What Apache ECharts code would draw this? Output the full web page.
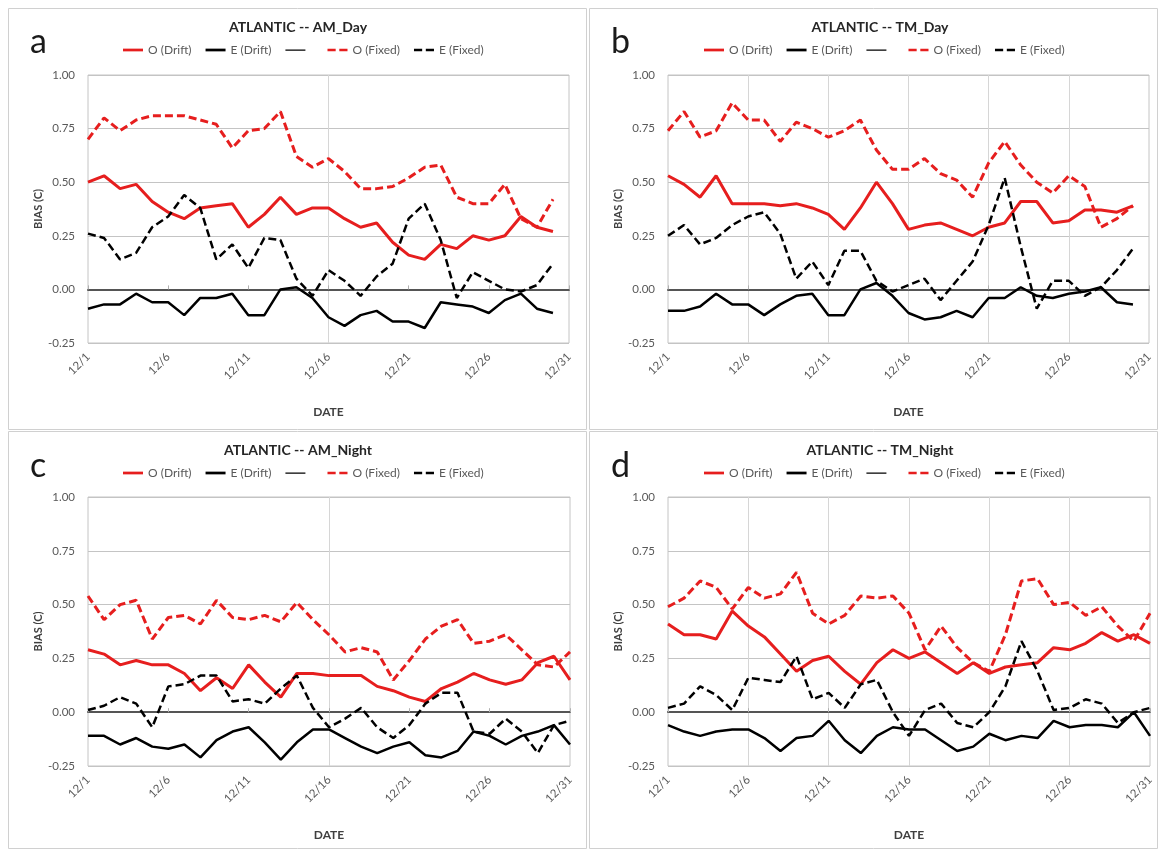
<!DOCTYPE html>
<html><head><meta charset="utf-8">
<script src="https://cdn.jsdelivr.net/npm/echarts@6/dist/echarts.min.js"></script>
<style>html,body{margin:0;padding:0;background:#fff}#c{width:1161px;height:849px}</style>
</head><body><div id="c"></div>
<script>
// ---------- DATA ----------
const categories = ['12/1','12/2','12/3','12/4','12/5','12/6','12/7','12/8','12/9','12/10',
  '12/11','12/12','12/13','12/14','12/15','12/16','12/17','12/18','12/19','12/20',
  '12/21','12/22','12/23','12/24','12/25','12/26','12/27','12/28','12/29','12/30','12/31'];
const yMin = -0.25, yMax = 1.00, yStep = 0.25;
const panelTitles = ['ATLANTIC -- AM_Day','ATLANTIC -- TM_Day','ATLANTIC -- AM_Night','ATLANTIC -- TM_Night'];
const panelLetters = ['a','b','c','d'];
const seriesNames = ['O (Drift)','E (Drift)',' ','O (Fixed)','E (Fixed)'];

// Panel a: AM_Day
const aODrift = [0.50,0.53,0.47,0.49,0.41,0.36,0.33,0.38,0.39,0.40,0.29,0.35,0.43,0.35,0.38,0.38,0.33,0.29,0.31,0.22,0.16,0.14,0.21,0.19,0.25,0.23,0.25,0.34,0.29,0.27];
const aEDrift = [-0.09,-0.07,-0.07,-0.02,-0.06,-0.06,-0.12,-0.04,-0.04,-0.02,-0.12,-0.12,0.00,0.01,-0.04,-0.13,-0.17,-0.12,-0.10,-0.15,-0.15,-0.18,-0.06,-0.07,-0.08,-0.11,-0.05,-0.02,-0.09,-0.11];
const aOFixed = [0.70,0.80,0.74,0.79,0.81,0.81,0.81,0.79,0.77,0.66,0.74,0.75,0.83,0.62,0.57,0.61,0.55,0.47,0.47,0.48,0.52,0.57,0.58,0.43,0.40,0.40,0.49,0.33,0.29,0.42];
const aEFixed = [0.26,0.24,0.14,0.17,0.29,0.34,0.44,0.38,0.14,0.21,0.10,0.24,0.23,0.05,-0.03,0.09,0.04,-0.03,0.06,0.12,0.33,0.40,0.23,-0.04,0.08,0.04,0.00,-0.01,0.02,0.12];
// Panel b: TM_Day
const bODrift = [0.53,0.49,0.43,0.53,0.40,0.40,0.40,0.39,0.40,0.38,0.35,0.28,0.38,0.50,0.40,0.28,0.30,0.31,0.28,0.25,0.29,0.31,0.41,0.41,0.31,0.32,0.37,0.37,0.36,0.39];
const bEDrift = [-0.10,-0.10,-0.08,-0.02,-0.07,-0.07,-0.12,-0.07,-0.03,-0.02,-0.12,-0.12,0.00,0.03,-0.03,-0.11,-0.14,-0.13,-0.10,-0.13,-0.04,-0.04,0.01,-0.03,-0.04,-0.02,-0.01,0.01,-0.06,-0.07];
const bOFixed = [0.74,0.83,0.71,0.74,0.87,0.79,0.79,0.69,0.78,0.75,0.71,0.74,0.79,0.65,0.56,0.56,0.61,0.54,0.51,0.43,0.59,0.69,0.58,0.50,0.45,0.53,0.48,0.29,0.33,0.39];
const bEFixed = [0.25,0.30,0.21,0.24,0.30,0.34,0.36,0.26,0.05,0.13,0.02,0.18,0.18,0.04,-0.01,0.02,0.05,-0.05,0.04,0.13,0.30,0.52,0.20,-0.09,0.04,0.04,-0.03,0.01,0.09,0.19];
// Panel c: AM_Night
const cODrift = [0.29,0.27,0.22,0.24,0.22,0.22,0.18,0.10,0.16,0.11,0.22,0.14,0.07,0.18,0.18,0.17,0.17,0.17,0.12,0.10,0.07,0.05,0.11,0.14,0.18,0.15,0.13,0.15,0.23,0.26,0.15];
const cEDrift = [-0.11,-0.11,-0.15,-0.12,-0.16,-0.17,-0.15,-0.21,-0.13,-0.09,-0.07,-0.14,-0.22,-0.14,-0.08,-0.08,-0.12,-0.16,-0.19,-0.16,-0.14,-0.20,-0.21,-0.18,-0.09,-0.11,-0.15,-0.11,-0.09,-0.06,-0.15];
const cOFixed = [0.54,0.43,0.50,0.52,0.34,0.44,0.45,0.41,0.52,0.44,0.43,0.45,0.42,0.51,0.43,0.36,0.28,0.30,0.28,0.15,0.24,0.34,0.40,0.43,0.32,0.33,0.36,0.29,0.22,0.21,0.28];
const cEFixed = [0.01,0.03,0.07,0.04,-0.07,0.12,0.13,0.17,0.17,0.05,0.06,0.04,0.11,0.17,0.02,-0.07,-0.03,0.02,-0.07,-0.12,-0.06,0.04,0.09,0.09,-0.09,-0.10,-0.03,-0.09,-0.19,-0.06,-0.04];
// Panel d: TM_Night
const dODrift = [0.41,0.36,0.36,0.34,0.47,0.40,0.35,0.27,0.19,0.24,0.26,0.19,0.13,0.23,0.29,0.25,0.28,0.23,0.18,0.23,0.18,0.21,0.22,0.23,0.30,0.29,0.32,0.37,0.33,0.36,0.32];
const dEDrift = [-0.06,-0.09,-0.11,-0.09,-0.08,-0.08,-0.12,-0.18,-0.12,-0.11,-0.04,-0.13,-0.19,-0.11,-0.07,-0.08,-0.08,-0.13,-0.18,-0.16,-0.10,-0.13,-0.11,-0.12,-0.04,-0.07,-0.06,-0.06,-0.07,0.00,-0.11];
const dOFixed = [0.49,0.53,0.61,0.58,0.48,0.58,0.53,0.55,0.65,0.46,0.41,0.45,0.54,0.53,0.54,0.46,0.29,0.40,0.30,0.23,0.19,0.36,0.61,0.62,0.50,0.51,0.45,0.49,0.40,0.33,0.46];
const dEFixed = [0.02,0.04,0.12,0.08,0.01,0.16,0.15,0.14,0.26,0.06,0.09,0.02,0.13,0.15,0.00,-0.11,0.01,0.04,-0.05,-0.07,0.00,0.12,0.33,0.19,0.01,0.02,0.06,0.04,-0.05,0.00,0.02];

const panelData = [
  [aODrift, aEDrift, aOFixed, aEFixed],
  [bODrift, bEDrift, bOFixed, bEFixed],
  [cODrift, cEDrift, cOFixed, cEFixed],
  [dODrift, dEDrift, dOFixed, dEFixed]
];

// ---------- LAYOUT / STYLE ----------
const FONT = 'Lato, "Open Sans", "DejaVu Sans", sans-serif';
const RED = '#e61e1e', BLACK = '#000000';
const ICON_SOLID = 'path://M0,0h22v3h-22z';
const ICON_DASH = 'path://M0,0h9v3h-9zM13,0h9v3h-9z';
const ICON_THIN = 'path://M0,0h0.01v3h-0.01zM0,1h22v1.2h-22z';
const legendIcons = [ICON_SOLID, ICON_SOLID, ICON_THIN, ICON_DASH, ICON_DASH];

const layout = [
  {box:[8,8,578,421],    grid:{left:88, top:75, width:481, height:268}, vg:[15],            cx:298, ty:27,  ly:39,  lx:118, letter:[30,42]},
  {box:[589,8,568,421],  grid:{left:668,top:75, width:481, height:268}, vg:[5,10,15,20,25], cx:880, ty:27,  ly:39,  lx:699, letter:[611,42]},
  {box:[8,431,578,417],  grid:{left:88, top:497,width:482, height:269}, vg:[15],            cx:298, ty:450, ly:462, lx:118, letter:[30,466]},
  {box:[589,431,568,417],grid:{left:668,top:497,width:482, height:269}, vg:[5,10,15,20,25], cx:880, ty:450, ly:462, lx:699, letter:[611,466]}
];

const grids = [], xAxes = [], yAxes = [], series = [], legends = [], graphics = [];
layout.forEach((L, k) => {
  grids.push(Object.assign({show:true, borderColor:'#c4c4c4', borderWidth:1, outerBoundsMode:'none', containLabel:false}, L.grid));
  const vg = L.vg;
  xAxes.push({
    gridIndex:k, type:'category', data:categories, boundaryGap:false, position:'bottom',
    axisLine:{show:false, onZero:false}, axisTick:{show:false},
    axisLabel:{interval:4, rotate:45, fontSize:11.5, color:'#595959', margin:12, fontFamily:FONT},
    splitLine:{show:true, interval:(i)=>vg.indexOf(i)>=0, lineStyle:{color:'#d6d6d6', width:1}},
    name:'DATE', nameLocation:'middle', nameGap:63,
    nameTextStyle:{fontWeight:'bold', fontSize:12, color:'#404040', fontFamily:FONT}
  });
  xAxes.push({
    gridIndex:k, type:'category', data:categories, boundaryGap:false, position:'bottom',
    axisLine:{show:true, onZero:true, lineStyle:{color:'#555555', width:2}},
    axisTick:{show:true, interval:4, length:4, inside:true, lineStyle:{color:'#b0b0b0'}},
    axisLabel:{show:false}, splitLine:{show:false}
  });
  yAxes.push({
    gridIndex:k, type:'value', min:yMin, max:yMax, interval:yStep,
    axisLine:{show:false}, axisTick:{show:false},
    splitLine:{lineStyle:{color:'#c4c4c4', width:1}},
    axisLabel:{formatter:(v)=>v.toFixed(2), fontSize:11.5, color:'#595959', margin:13, fontFamily:FONT},
    name:'BIAS (C)', nameLocation:'middle', nameGap:44, nameRotate:90,
    nameTextStyle:{fontWeight:'bold', fontSize:11, color:'#404040', fontFamily:FONT}
  });
  const [od, ed, of, ef] = panelData[k];
  const mk = (name, data, color, width, dashed) => ({
    name, type:'line', xAxisIndex:2*k, yAxisIndex:k, data, symbol:'none', showSymbol:false,
    lineStyle:{color, width, type: dashed ? [8,4] : 'solid'}, itemStyle:{color},
    emphasis:{disabled:true}, animation:false
  });
  series.push(mk(seriesNames[0], od, RED, 3, false));
  series.push(mk(seriesNames[1], ed, BLACK, 2.5, false));
  series.push(mk(seriesNames[2], [], BLACK, 1.5, false));
  series.push(mk(seriesNames[3], of, RED, 3, true));
  series.push(mk(seriesNames[4], ef, BLACK, 2.5, true));
  legends.push({
    data:seriesNames.map((n, i) => ({name:n, icon:legendIcons[i]})),
    left:L.lx, top:L.ly, orient:'horizontal',
    itemWidth:20, itemHeight:3, itemGap:14, selectedMode:false,
    textStyle:{fontSize:12, color:'#595959', fontFamily:FONT}
  });
  graphics.push({type:'rect', silent:true, z:-10, shape:{x:L.box[0]+0.5, y:L.box[1]+0.5, width:L.box[2], height:L.box[3]},
    style:{fill:'none', stroke:'#d0d0d0', lineWidth:1}});
  graphics.push({type:'text', silent:true, x:L.cx, y:L.ty,
    style:{text:panelTitles[k], textAlign:'center', textVerticalAlign:'middle', verticalAlign:'middle',
      font:'bold 14px ' + FONT, fill:'#262626'}});
  graphics.push({type:'text', silent:true, x:L.letter[0], y:L.letter[1],
    style:{text:panelLetters[k], textAlign:'left', textVerticalAlign:'middle', verticalAlign:'middle',
      font:'normal 34px ' + FONT, fill:'#1a1a1a'}});
});

const chart = echarts.init(document.getElementById('c'), null, {renderer:'canvas'});
chart.setOption({
  animation:false, backgroundColor:'#ffffff',
  grid:grids, xAxis:xAxes, yAxis:yAxes, series, legend:legends, graphic:graphics
});
</script></body></html>
